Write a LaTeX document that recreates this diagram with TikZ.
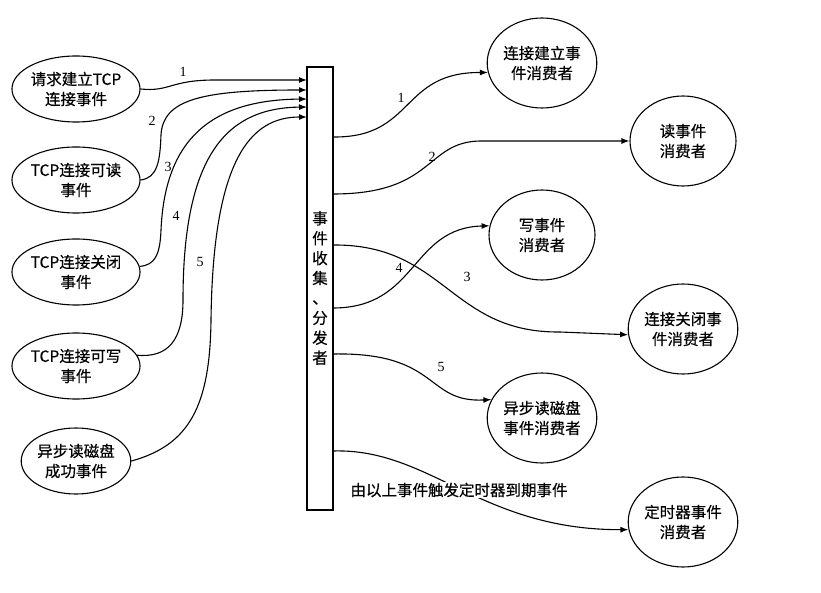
\documentclass[tikz,border=0pt]{standalone}
\usepackage{fontspec}
\setmainfont{Liberation Serif}
\newfontfamily\cjk[FakeBold=0.4]{Noto Sans CJK SC}
\usetikzlibrary{shapes.geometric,arrows.meta}
\begin{document}
\begin{tikzpicture}[x=1pt,y=-1pt,
  srcell/.style={draw,line width=1.1pt,ellipse,inner sep=0pt,minimum width=108pt,minimum height=66pt,align=center,font=\cjk\fontsize{15.5}{20}\selectfont},
  dstell/.style={draw,line width=1.1pt,ellipse,inner sep=0pt,minimum width=106pt,minimum height=90pt,align=center,font=\cjk\fontsize{15.5}{20}\selectfont},
  conn/.style={line width=1.1pt,-{Latex[length=8pt,width=6pt]}},
  plain/.style={line width=1.1pt},
  num/.style={font=\fontsize{14}{16}\selectfont,inner sep=1pt}]
\useasboundingbox (0,0) rectangle (821,593);
\fill[white] (0,0) rectangle (821,593);
% bar
\node[draw,line width=1.1pt,minimum width=26pt,minimum height=443pt,inner sep=0pt] (bar) at (320,288.5) {};
\node[align=center,font=\cjk\fontsize{15.5}{19.9}\selectfont,inner sep=0pt] (bartext) at (320,288) {事\\件\\收\\集\\、\\分\\发\\者};
% source ellipses
\node[srcell] (l1) at (76,89) {请求建立TCP\\连接事件};
\node[srcell] (l2) at (76,180) {TCP连接可读\\事件};
\node[srcell] (l3) at (76,272) {TCP连接关闭\\事件};
\node[srcell] (l4) at (76,366) {TCP连接可写\\事件};
\node[srcell] (l5) at (76,461) {异步读磁盘\\成功事件};
% destination ellipses
\node[dstell] (rA) at (542,63) {连接建立事\\件消费者};
\node[dstell] (rB) at (683,141) {读事件\\消费者};
\node[dstell] (rC) at (542,235) {写事件\\消费者};
\node[dstell] (rD) at (683,329) {连接关闭事\\件消费者};
\node[dstell] (rE) at (542,418) {异步读磁盘\\事件消费者};
\node[dstell] (rF) at (683,522) {定时器事件\\消费者};
% points on the bar
\coordinate (in1) at (307,80);
\coordinate (in2) at (307,90);
\coordinate (in3) at (307,99);
\coordinate (in4) at (307,107);
\coordinate (in5) at (307,117);
\coordinate (out1) at (333,137);
\coordinate (out2) at (333,194);
\coordinate (out3) at (333,245);
\coordinate (out4) at (333,308);
\coordinate (out5) at (333,354);
\coordinate (out6) at (333,451);
% incoming
\draw[conn] (l1.east) .. controls (170,92) and (170,80) .. (215,80) -- (in1);
\draw[conn] (l2.east) .. controls (158,178) and (160,160) .. (161,135) .. controls (163,100) and (200,90) .. (in2);
\draw[conn] (l3.5) .. controls (155,265) and (160,255) .. (161,230) .. controls (165,140) and (210,100) .. (in3);
\draw[conn] (l4.10) .. controls (168,358) and (183,340) .. (183,300) .. controls (183,150) and (230,108) .. (in4);
\draw[conn] (l5.east) .. controls (190,445) and (210,405) .. (211,320) .. controls (213,160) and (250,117) .. (in5);
\node[num] (n1) at (183,72) {1};
\node[num] (n2) at (152,121) {2};
\node[num] (n3) at (168,167) {3};
\node[num] (n4) at (176,216) {4};
\node[num] (n5) at (200,262) {5};
% outgoing
\draw[conn] (out1) .. controls (415,138) and (400,72) .. (rA.190);
\draw[conn] (out2) .. controls (435,194) and (425,142) .. (480,141) -- (rB.west);
\draw[plain] (out3) .. controls (445,244) and (450,333) .. (560,332);
\draw[conn] (560,332) -- (rD.186);
\draw[conn] (out4) .. controls (418,308) and (410,228) .. (rC.170);
\draw[conn] (out5) .. controls (440,352) and (425,403) .. (rE.160);
\draw[conn] (out6) .. controls (430,448) and (480,530) .. (rF.188);
\node[num] (m1) at (401,98) {1};
\node[num] (m2) at (432,157) {2};
\node[num] (m3) at (467,277) {3};
\node[num] (m4) at (399,268) {4};
\node[num] (m5) at (441,367) {5};
\node[fill=white,inner sep=1pt,font=\cjk\fontsize{15.5}{18}\selectfont] (timer) at (459,490) {由以上事件触发定时器到期事件};
\end{tikzpicture}
\end{document}
